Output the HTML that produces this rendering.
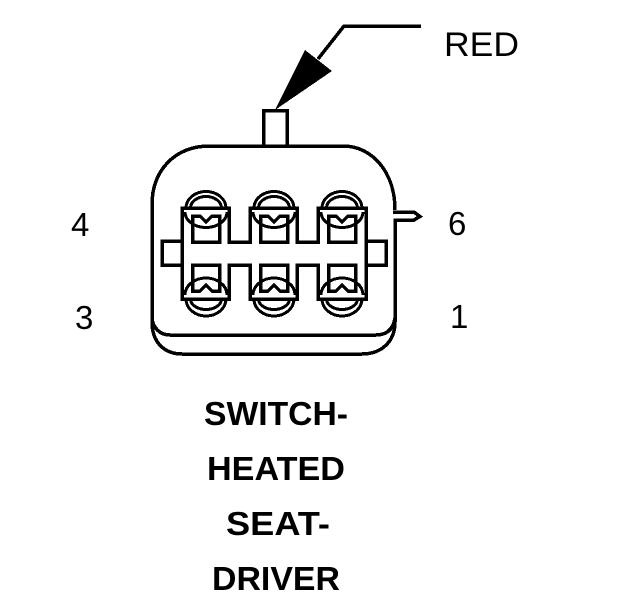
<!DOCTYPE html>
<html>
<head>
<meta charset="utf-8">
<style>
html,body{margin:0;padding:0;background:#fff;}
svg{display:block;}
text{font-family:"Liberation Sans",sans-serif;fill:#000;}
.b{font-weight:bold;font-size:33px;}
.n{font-size:33px;}
.a{stroke-width:3;}
</style>
</head>
<body>
<svg width="624" height="600" viewBox="0 0 624 600" xmlns="http://www.w3.org/2000/svg">
<g fill="none" stroke="#000" stroke-width="3.5" shape-rendering="crispEdges">
  <!-- leader + top stub -->
  <path d="M421 26H344L318 59"/>
  <path d="M263.500 146V110.500H287V146"/>
  <!-- body -->
  <path d="M152 205C152 170 175 146 210 146H343C372 146 395 172 395 210"/>
  <path d="M393 212H414L420 216.500L414 220H395V322C395 342 381 354 362 354H182C164 354 152 342 152 322V205"/>
  <path d="M152 318C153 328 160 335 170 335H376C386 335 393 330 395 318"/>
  <!-- comb shape: continuous outer verticals, side tabs -->
  <path d="M182 299V208H229V242H250V208H297V242H318V208H366V299H318V265H297V299H250V265H229V299Z"/>
  <path d="M182 241H162V265H182"/>
  <path d="M366 241H386V265H366"/>
  <!-- top contacts -->
  <g>
    <path class="a" d="M186 208A20 16.500 0 0 1 226 208"/>
    <path class="a" d="M190.500 208A15.500 11.500 0 0 1 221.500 208"/>
    <path class="a" d="M185 212A21 15.500 0 0 0 227 212"/>
    <path d="M192.500 242V216H200L206 222L212 216H219.500V242Z"/>
  </g>
  <g transform="translate(68 0)">
    <path class="a" d="M186 208A20 16.500 0 0 1 226 208"/>
    <path class="a" d="M190.500 208A15.500 11.500 0 0 1 221.500 208"/>
    <path class="a" d="M185 212A21 15.500 0 0 0 227 212"/>
    <path d="M192.500 242V216H200L206 222L212 216H219.500V242Z"/>
  </g>
  <g transform="translate(136 0)">
    <path class="a" d="M186 208A20 16.500 0 0 1 226 208"/>
    <path class="a" d="M190.500 208A15.500 11.500 0 0 1 221.500 208"/>
    <path class="a" d="M185 212A21 15.500 0 0 0 227 212"/>
    <path d="M192.500 242V216H200L206 222L212 216H219.500V242Z"/>
  </g>
  <!-- bottom contacts -->
  <g>
    <path class="a" d="M186 299A20 17 0 0 0 226 299"/>
    <path class="a" d="M190.500 299A15.500 10.500 0 0 0 221.500 299"/>
    <path class="a" d="M185 295A21 17 0 0 1 227 295"/>
    <path d="M192.500 265V291H200L206 285L212 291H219.500V265Z"/>
  </g>
  <g transform="translate(68 0)">
    <path class="a" d="M186 299A20 17 0 0 0 226 299"/>
    <path class="a" d="M190.500 299A15.500 10.500 0 0 0 221.500 299"/>
    <path class="a" d="M185 295A21 17 0 0 1 227 295"/>
    <path d="M192.500 265V291H200L206 285L212 291H219.500V265Z"/>
  </g>
  <g transform="translate(136 0)">
    <path class="a" d="M186 299A20 17 0 0 0 226 299"/>
    <path class="a" d="M190.500 299A15.500 10.500 0 0 0 221.500 299"/>
    <path class="a" d="M185 295A21 17 0 0 1 227 295"/>
    <path d="M192.500 265V291H200L206 285L212 291H219.500V265Z"/>
  </g>
</g>
<polygon points="275,110 305,50 332,71" fill="#000" shape-rendering="crispEdges"/>
<text class="n" x="444" y="56" style="font-size:34px" textLength="75" lengthAdjust="spacingAndGlyphs">RED</text>
<text class="n" x="71" y="236">4</text>
<text class="n" x="75" y="329">3</text>
<text class="n" x="448" y="235">6</text>
<text class="n" x="450" y="328">1</text>
<text class="b" x="204" y="425" textLength="144" lengthAdjust="spacingAndGlyphs">SWITCH-</text>
<text class="b" x="207" y="480" textLength="138" lengthAdjust="spacingAndGlyphs">HEATED</text>
<text class="b" x="226" y="535" textLength="104" lengthAdjust="spacingAndGlyphs">SEAT-</text>
<text class="b" x="212" y="590" textLength="128" lengthAdjust="spacingAndGlyphs">DRIVER</text>
</svg>
</body>
</html>
